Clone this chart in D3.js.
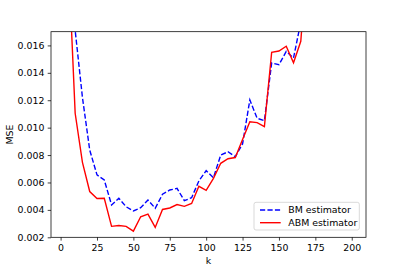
<!DOCTYPE html>
<html>
<head>
<meta charset="utf-8">
<script src="https://cdn.jsdelivr.net/npm/d3@7"></script>
<style>
  html, body { margin: 0; padding: 0; background: #fff; }
  svg text { font-family: "DejaVu Sans", sans-serif; }
</style>
</head>
<body>
<svg id="chart" width="407" height="271"></svg>
<script>
const kValues = [5,10,15,20,25,30,35,40,45,50,55,60,65,70,75,80,85,90,95,100,105,110,115,120,125,130,135,140,145,150,155,160,165,170,175,180,185,190,195,200];
const bmValues = [0.030,0.0171,0.0122,0.00837,0.00655,0.00618,0.00436,0.00485,0.00423,0.00392,0.00416,0.00472,0.00412,0.00514,0.00545,0.00557,0.00467,0.00489,0.00611,0.00686,0.00635,0.0080,0.00824,0.00788,0.00881,0.01202,0.01068,0.01051,0.01472,0.01459,0.01556,0.01508,0.0177,0.021,0.024,0.027,0.030,0.033,0.036,0.039];
const abmValues = [0.0232,0.01105,0.00747,0.00534,0.00483,0.00485,0.0028,0.00286,0.0028,0.00245,0.0035,0.00369,0.00272,0.00403,0.00414,0.00439,0.00426,0.00447,0.00572,0.00543,0.0063,0.0074,0.00773,0.00782,0.00913,0.01043,0.01037,0.01008,0.0155,0.01559,0.01594,0.01473,0.0163,0.0233,0.026,0.028,0.031,0.034,0.037,0.040];
const xTicks = [0,25,50,75,100,125,150,175,200];
const yTicks = [0.002,0.004,0.006,0.008,0.010,0.012,0.014,0.016];
const seriesNames = ["BM estimator","ABM estimator"];
const xLabel = "k";
const yLabel = "MSE";

(function(){
const svg = d3.select("#chart");
const L = 51, R = 366, T = 31.7, B = 237.3;
const fs = 9.4;

const x = d3.scaleLinear().domain([-6.6, 209.8]).range([L, R]);
const y = d3.scaleLinear().domain([0.002, 0.017]).range([B, T]);

svg.append("defs").append("clipPath").attr("id","clip")
  .append("rect").attr("x", L).attr("y", T).attr("width", R-L).attr("height", B-T);

const lineGen = vals => d3.line().x((d,i)=>x(kValues[i])).y(d=>y(d))(vals);

const plot = svg.append("g").attr("clip-path","url(#clip)");
plot.append("path").attr("d", lineGen(bmValues)).attr("fill","none")
  .attr("stroke","#0000ff").attr("stroke-width",1.4).attr("stroke-dasharray","5.2,2.25");
plot.append("path").attr("d", lineGen(abmValues)).attr("fill","none")
  .attr("stroke","#ff0000").attr("stroke-width",1.4);

const xAxis = d3.axisBottom(x).tickValues(xTicks).tickSize(3.3).tickPadding(3.3).tickFormat(d3.format("d"));
const gx = svg.append("g").attr("transform",`translate(0,${B})`).call(xAxis);
gx.select(".domain").remove();
gx.selectAll("line").attr("stroke","#000").attr("stroke-width",0.75);
gx.selectAll("text").attr("font-size",fs).attr("fill","#000");

const yAxis = d3.axisLeft(y).tickValues(yTicks).tickSize(3.3).tickPadding(3.3).tickFormat(d3.format(".3f"));
const gy = svg.append("g").attr("transform",`translate(${L},0)`).call(yAxis);
gy.select(".domain").remove();
gy.selectAll("line").attr("stroke","#000").attr("stroke-width",0.75);
gy.selectAll("text").attr("font-size",fs).attr("fill","#000");
gx.attr("font-family", null); gy.attr("font-family", null);

svg.append("rect").attr("x",L).attr("y",T).attr("width",R-L).attr("height",B-T)
  .attr("fill","none").attr("stroke","#000").attr("stroke-width",0.75);

svg.append("text").attr("x",(L+R)/2).attr("y",264).attr("text-anchor","middle")
  .attr("font-size",fs).text(xLabel);
svg.append("text").attr("transform",`translate(12.5,${(T+B)/2}) rotate(-90)`)
  .attr("text-anchor","middle").attr("font-size",fs).text(yLabel);

const lg = svg.append("g");
lg.append("rect").attr("x",254).attr("y",202.3).attr("width",105.3).attr("height",27.7)
  .attr("rx",2).attr("fill","#fff").attr("fill-opacity",0.8).attr("stroke","#cccccc").attr("stroke-width",0.75);
const styles = [{c:"#0000ff",dash:"5.2,2.25"},{c:"#ff0000",dash:null}];
seriesNames.forEach((name,i)=>{
  const yy = 210 + i*12.7;
  lg.append("line").attr("x1",260).attr("x2",280.7).attr("y1",yy).attr("y2",yy)
    .attr("stroke",styles[i].c).attr("stroke-width",1.4).attr("stroke-dasharray",styles[i].dash);
  lg.append("text").attr("x",288.3).attr("y",yy).attr("dy","0.35em").attr("font-size",fs).text(name);
});
})();
</script>
</body>
</html>
